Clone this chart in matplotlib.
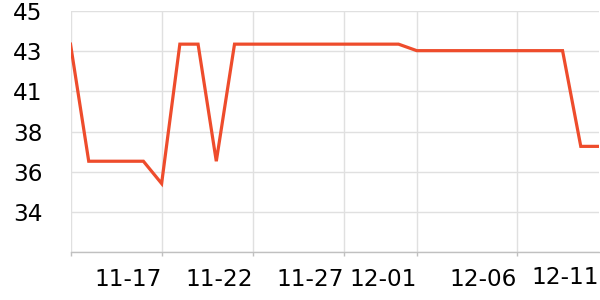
import matplotlib
matplotlib.use("Agg")
import matplotlib.pyplot as plt
import matplotlib.dates as mdates
import numpy as np
import pandas as pd

# daily readings
dates = ['2023-11-12', '2023-11-13', '2023-11-14', '2023-11-15', '2023-11-16',
         '2023-11-17', '2023-11-18', '2023-11-19', '2023-11-20', '2023-11-21',
         '2023-11-22', '2023-11-23', '2023-11-24', '2023-11-25', '2023-11-26',
         '2023-11-27', '2023-11-28', '2023-11-29', '2023-11-30', '2023-12-01',
         '2023-12-02', '2023-12-03', '2023-12-04', '2023-12-05', '2023-12-06',
         '2023-12-07', '2023-12-08', '2023-12-09', '2023-12-10', '2023-12-11']
values = [43.2, 36.9, 36.9, 36.9, 36.9,
          35.7, 43.2, 43.2, 36.9, 43.2,
          43.2, 43.2, 43.2, 43.2, 43.2,
          43.2, 43.2, 43.2, 43.2, 42.85,
          42.85, 42.85, 42.85, 42.85, 42.85,
          42.85, 42.85, 42.85, 37.7, 37.7]

tick_dates = ['2023-11-12 00:00', '2023-11-17 00:00', '2023-11-22 00:00',
              '2023-11-27 00:00', '2023-12-01 00:00', '2023-12-06 12:00']
tick_labels = ['', '11-17', '11-22', '11-27', '12-01', '12-06']
last_label = '12-11'

y_min, y_max = 32, 45

x = pd.to_datetime(dates)
ticks = pd.to_datetime(tick_dates, format='%Y-%m-%d %H:%M')

fig = plt.figure(figsize=(6, 3), dpi=100)
ax = fig.add_axes([70.5 / 600, 1 - 252.3 / 300, 528.5 / 600, 241.6 / 300])

ax.plot(x, values, color='#ee4c2c', lw=2.3, solid_joinstyle='miter', zorder=3)

ax.set_xlim(x[0], x[-1])
ax.set_ylim(y_min, y_max)

yt = np.linspace(y_min, y_max, 7)
ax.set_yticks(yt)
ax.set_yticklabels(['' if v == y_min else format(v, '.0f') for v in yt])

ax.set_xticks(ticks)
ax.set_xticklabels(tick_labels, ha='right')

ax.grid(True, color='#e0e0e0', lw=1)
ax.set_axisbelow(True)
for s in ['top', 'right', 'left']:
    ax.spines[s].set_visible(False)
ax.spines['bottom'].set_color('#c0c0c0')
ax.spines['bottom'].set_linewidth(1)

ax.tick_params(axis='y', length=0, pad=20, labelsize=16.7, labelcolor='black')
ax.tick_params(axis='x', length=3, width=1, color='#c0c0c0', pad=8,
               labelsize=16.7, labelcolor='black')

ax.annotate(last_label, xy=(mdates.date2num(x[-1]), 0),
            xycoords=('data', 'axes fraction'), xytext=(0, -10.2),
            textcoords='offset points', ha='right', va='top',
            fontsize=16.7, color='black', annotation_clip=False)

fig.savefig('out.png', dpi=100)
